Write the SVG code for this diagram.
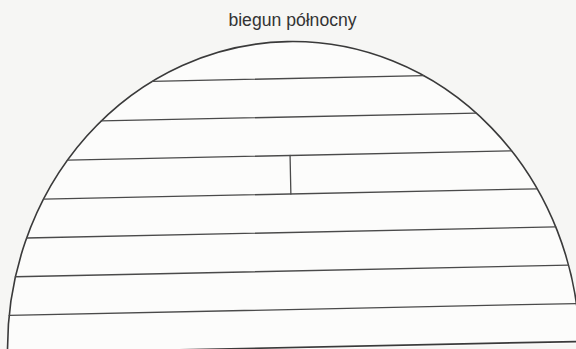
<svg xmlns="http://www.w3.org/2000/svg" width="576" height="349" viewBox="0 0 576 349">
  <style>
    .ln { stroke: #4a4a4a; stroke-width: 1.3; fill: none; stroke-linecap: round; }
    .arc { stroke: #3a3a3a; stroke-width: 1.6; fill: #fcfcfb; }
    .lbl { font-family: "Liberation Sans", Arial, sans-serif; font-size: 17.6px; fill: #333333; }
  </style>
  <rect x="0" y="0" width="576" height="349" fill="#f6f6f4"/>
  <g id="label">
    <text class="lbl" x="292.5" y="26" text-anchor="middle">biegun północny</text>
  </g>
  <g id="dome" transform="rotate(-1.2 290 200)">
    <path class="arc" d="M 4.4 349.6 A 286.1 308 0 0 1 576.6 349.6"/>
  </g>
  <g id="lines" transform="rotate(-1.2 290 200)">
    <line class="ln" x1="154.7" y1="78.5" x2="426.3" y2="78.5"/>
    <line class="ln" x1="103" y1="117" x2="478" y2="117"/>
    <line class="ln" x1="68.4" y1="155.5" x2="512.6" y2="155.5"/>
    <line class="ln" x1="43.6" y1="194" x2="537.4" y2="194"/>
    <line class="ln" x1="25.9" y1="232.5" x2="555.1" y2="232.5"/>
    <line class="ln" x1="13.9" y1="271" x2="567.1" y2="271"/>
    <line class="ln" x1="6.8" y1="309.5" x2="574.2" y2="309.5"/>
    <line class="ln" x1="4.5" y1="347.5" x2="576.5" y2="347.5" style="stroke-width:1.7;stroke:#3a3a3a"/>
    <line class="ln" x1="291" y1="155.5" x2="291" y2="194"/>
  </g>
</svg>
